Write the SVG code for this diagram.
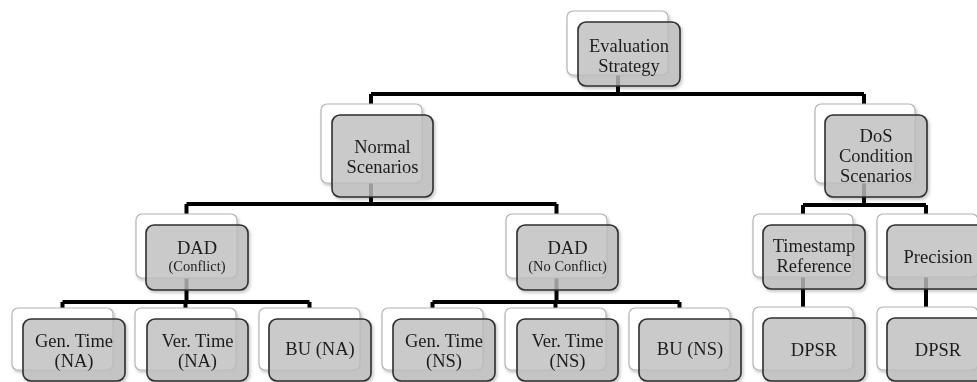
<svg xmlns="http://www.w3.org/2000/svg" width="977" height="382" viewBox="0 0 977 382">
<style>
.back{fill:#ffffff;stroke:#b4b4b4;stroke-width:1.2}
.front{fill:#bdbdbd;fill-opacity:0.8;stroke:#2e2e2e;stroke-width:1.6}
.t{font-family:"Liberation Serif","Times New Roman",serif;font-size:18.5px;fill:#1e1e1e;text-anchor:middle}
.s{font-size:14.5px}
.c{fill:none;stroke:#000;stroke-width:4;stroke-linejoin:miter;stroke-linecap:butt}
</style>
<defs>
<filter id="sh" x="-10%" y="-10%" width="130%" height="130%">
<feDropShadow dx="1.5" dy="2" stdDeviation="1.5" flood-color="#000" flood-opacity="0.25"/>
</filter>
</defs>
<g id="connectors">
<path class="c" d="M618,75V94M371,94H864M371,94V104M864,94V104"/>
<path class="c" d="M371,183V204M186.5,204H556.5M186.5,204V214M556.5,204V214"/>
<path class="c" d="M864,183V205M803,205H926M803,205V214M926,205V214"/>
<path class="c" d="M186.5,278V302M62.5,302H309.5M62.5,302V308M185.5,302V308M309.5,302V308"/>
<path class="c" d="M556.5,278V302M432.5,302H679.5M432.5,302V308M555.5,302V308M679.5,302V308"/>
<path class="c" d="M803,277V307M926,277V307"/>
</g>
<g id="n-eval" filter="url(#sh)">
<rect class="back" x="567" y="11" width="101" height="64" rx="6"/>
<rect class="front" x="578" y="22" width="102" height="64" rx="8"/>
<text class="t" x="629" y="52">Evaluation</text>
<text class="t" x="629" y="71.5">Strategy</text>
</g>
<g id="n-normal" filter="url(#sh)">
<rect class="back" x="321" y="104" width="101" height="79" rx="6"/>
<rect class="front" x="332" y="115" width="101" height="82" rx="8"/>
<text class="t" x="382.5" y="152.5">Normal</text>
<text class="t" x="382.5" y="172.5">Scenarios</text>
</g>
<g id="n-dos" filter="url(#sh)">
<rect class="back" x="815" y="104" width="100" height="79" rx="6"/>
<rect class="front" x="825" y="115" width="102" height="82" rx="8"/>
<text class="t" x="876" y="141.5">DoS</text>
<text class="t" x="876" y="161.5">Condition</text>
<text class="t" x="876" y="181.5">Scenarios</text>
</g>
<g id="n-dadc" filter="url(#sh)">
<rect class="back" x="136" y="214" width="101" height="64" rx="6"/>
<rect class="front" x="146" y="225" width="102" height="65" rx="8"/>
<text class="t" x="197" y="254">DAD</text>
<text class="t s" x="197" y="271">(Conflict)</text>
</g>
<g id="n-dadnc" filter="url(#sh)">
<rect class="back" x="506" y="214" width="101" height="64" rx="6"/>
<rect class="front" x="517" y="225" width="101" height="65" rx="8"/>
<text class="t" x="567.5" y="254">DAD</text>
<text class="t s" x="567.5" y="271">(No Conflict)</text>
</g>
<g id="n-ts" filter="url(#sh)">
<rect class="back" x="753" y="214" width="100" height="63" rx="6"/>
<rect class="front" x="763" y="225" width="102" height="64" rx="8"/>
<text class="t" x="814" y="251.5">Timestamp</text>
<text class="t" x="814" y="271.5">Reference</text>
</g>
<g id="n-prec" filter="url(#sh)">
<rect class="back" x="877" y="214" width="101" height="63" rx="6"/>
<rect class="front" x="887" y="225" width="102" height="64" rx="8"/>
<text class="t" x="938" y="263">Precision</text>
</g>
<g id="n-gen-na" filter="url(#sh)">
<rect class="back" x="12" y="308" width="101" height="62" rx="6"/>
<rect class="front" x="23" y="319" width="102" height="62" rx="8"/>
<text class="t" x="74" y="346.5">Gen. Time</text>
<text class="t" x="74" y="366.5">(NA)</text>
</g>
<g id="n-ver-na" filter="url(#sh)">
<rect class="back" x="135" y="308" width="101" height="62" rx="6"/>
<rect class="front" x="147" y="319" width="101" height="62" rx="8"/>
<text class="t" x="197.5" y="346.5">Ver. Time</text>
<text class="t" x="197.5" y="366.5">(NA)</text>
</g>
<g id="n-bu-na" filter="url(#sh)">
<rect class="back" x="259" y="308" width="101" height="62" rx="6"/>
<rect class="front" x="269" y="319" width="102" height="62" rx="8"/>
<text class="t" x="320" y="355">BU (NA)</text>
</g>
<g id="n-gen-ns" filter="url(#sh)">
<rect class="back" x="382" y="308" width="101" height="62" rx="6"/>
<rect class="front" x="393" y="319" width="102" height="62" rx="8"/>
<text class="t" x="444" y="346.5">Gen. Time</text>
<text class="t" x="444" y="366.5">(NS)</text>
</g>
<g id="n-ver-ns" filter="url(#sh)">
<rect class="back" x="505" y="308" width="101" height="62" rx="6"/>
<rect class="front" x="517" y="319" width="101" height="62" rx="8"/>
<text class="t" x="567.5" y="346.5">Ver. Time</text>
<text class="t" x="567.5" y="366.5">(NS)</text>
</g>
<g id="n-bu-ns" filter="url(#sh)">
<rect class="back" x="629" y="308" width="101" height="62" rx="6"/>
<rect class="front" x="639" y="319" width="102" height="62" rx="8"/>
<text class="t" x="690" y="355">BU (NS)</text>
</g>
<g id="n-dpsr1" filter="url(#sh)">
<rect class="back" x="753" y="307" width="100" height="63" rx="6"/>
<rect class="front" x="763" y="318" width="102" height="63" rx="8"/>
<text class="t" x="814" y="356">DPSR</text>
</g>
<g id="n-dpsr2" filter="url(#sh)">
<rect class="back" x="877" y="307" width="101" height="63" rx="6"/>
<rect class="front" x="887" y="318" width="102" height="63" rx="8"/>
<text class="t" x="938" y="356">DPSR</text>
</g>
</svg>
